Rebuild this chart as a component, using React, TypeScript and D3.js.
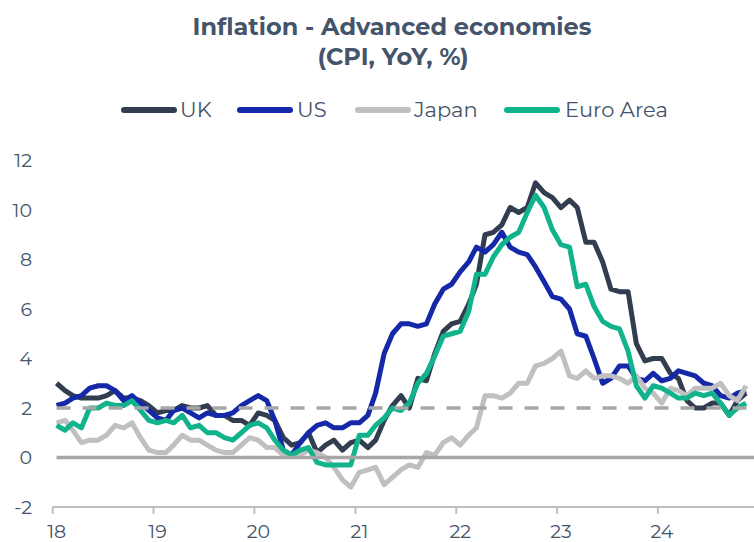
import React from "react";
import * as d3 from "d3";

// monthly CPI YoY %, Jan 2018 .. Nov 2024
const ukCpi = [
  3.0, 2.7, 2.5, 2.4, 2.4, 2.4, 2.5, 2.7, 2.4, 2.4, 2.3, 2.1,
  1.8, 1.9, 1.9, 2.1, 2.0, 2.0, 2.1, 1.7, 1.7, 1.5, 1.5, 1.3,
  1.8, 1.7, 1.5, 0.8, 0.5, 0.6, 1.0, 0.2, 0.5, 0.7, 0.3, 0.6,
  0.7, 0.4, 0.7, 1.5, 2.1, 2.5, 2.0, 3.2, 3.1, 4.2, 5.1, 5.4,
  5.5, 6.2, 7.0, 9.0, 9.1, 9.4, 10.1, 9.9, 10.1, 11.1, 10.7, 10.5,
  10.1, 10.4, 10.1, 8.7, 8.7, 7.9, 6.8, 6.7, 6.7, 4.6, 3.9, 4.0,
  4.0, 3.4, 3.2, 2.3, 2.0, 2.0, 2.2, 2.2, 1.7, 2.3, 2.6,
];
const usCpi = [
  2.1, 2.2, 2.4, 2.5, 2.8, 2.9, 2.9, 2.7, 2.3, 2.5, 2.2, 1.9,
  1.6, 1.5, 1.9, 2.0, 1.8, 1.6, 1.8, 1.7, 1.7, 1.8, 2.1, 2.3,
  2.5, 2.3, 1.5, 0.3, 0.1, 0.6, 1.0, 1.3, 1.4, 1.2, 1.2, 1.4,
  1.4, 1.7, 2.6, 4.2, 5.0, 5.4, 5.4, 5.3, 5.4, 6.2, 6.8, 7.0,
  7.5, 7.9, 8.5, 8.3, 8.6, 9.1, 8.5, 8.3, 8.2, 7.7, 7.1, 6.5,
  6.4, 6.0, 5.0, 4.9, 4.0, 3.0, 3.2, 3.7, 3.7, 3.2, 3.1, 3.4,
  3.1, 3.2, 3.5, 3.4, 3.3, 3.0, 2.9, 2.5, 2.4, 2.6, 2.7,
];
const japanCpi = [
  1.4, 1.5, 1.1, 0.6, 0.7, 0.7, 0.9, 1.3, 1.2, 1.4, 0.8, 0.3,
  0.2, 0.2, 0.5, 0.9, 0.7, 0.7, 0.5, 0.3, 0.2, 0.2, 0.5, 0.8,
  0.7, 0.4, 0.4, 0.1, 0.1, 0.1, 0.3, 0.2, 0.0, -0.4, -0.9, -1.2,
  -0.6, -0.5, -0.4, -1.1, -0.8, -0.5, -0.3, -0.4, 0.2, 0.1, 0.6, 0.8,
  0.5, 0.9, 1.2, 2.5, 2.5, 2.4, 2.6, 3.0, 3.0, 3.7, 3.8, 4.0,
  4.3, 3.3, 3.2, 3.5, 3.2, 3.3, 3.3, 3.2, 3.0, 3.3, 2.8, 2.6,
  2.2, 2.8, 2.7, 2.5, 2.8, 2.8, 2.8, 3.0, 2.5, 2.3, 2.9,
];
const euroCpi = [
  1.3, 1.1, 1.4, 1.2, 2.0, 2.0, 2.2, 2.1, 2.1, 2.3, 1.9, 1.5,
  1.4, 1.5, 1.4, 1.7, 1.2, 1.3, 1.0, 1.0, 0.8, 0.7, 1.0, 1.3,
  1.4, 1.2, 0.7, 0.3, 0.1, 0.3, 0.4, -0.2, -0.3, -0.3, -0.3, -0.3,
  0.9, 0.9, 1.3, 1.6, 2.0, 1.9, 2.2, 3.0, 3.4, 4.1, 4.9, 5.0,
  5.1, 5.9, 7.4, 7.4, 8.1, 8.6, 8.9, 9.1, 9.9, 10.6, 10.1, 9.2,
  8.6, 8.5, 6.9, 7.0, 6.1, 5.5, 5.3, 5.2, 4.3, 2.9, 2.4, 2.9,
  2.8, 2.6, 2.4, 2.4, 2.6, 2.5, 2.6, 2.2, 1.7, 2.0, 2.2,
];

const seriesNames = ["UK", "US", "Japan", "Euro Area"];
const seriesColors = ["#323e50", "#1428a8", "#c0c0c0", "#10b38c"];
const seriesValues = [ukCpi, usCpi, japanCpi, euroCpi];
const yTicks = [-2, 0, 2, 4, 6, 8, 10, 12];
const yearTicks = [2018, 2019, 2020, 2021, 2022, 2023, 2024];
const target = 2;

const W = 754, H = 542;
const textColor = "#44546a";
const font = "Montserrat, 'Open Sans', sans-serif";

export default function App() {
  const months = ukCpi.map((_, i) => new Date(2018, i, 15));

  const x = d3.scaleTime()
    .domain([new Date(2018, 0, 1), new Date(2025, 0, 1)])
    .range([52.7, 759]);
  const y = d3.scaleLinear().domain([-2, 12]).range([507, 160.5]);

  const line = d3.line<number>()
    .x((_, i) => x(months[i]))
    .y(d => y(d));

  const x0 = x(months[0]);

  // legend layout (swatch start, text start)
  const legendItems = [
    { sx: 124, tx: 180 },
    { sx: 240, tx: 297 },
    { sx: 358, tx: 414 },
    { sx: 507, tx: 565 },
  ];

  return (
    <div style={{ position: "absolute", left: 0, top: 0 }}>
      <svg width={W} height={H} style={{ display: "block", background: "#fff" }}
        fontFamily={font}>
        <text x={392} y={35} textAnchor="middle" fontSize={24} fontWeight={700}
          fill={textColor}>Inflation - Advanced economies</text>
        <text x={393} y={65} textAnchor="middle" fontSize={24} fontWeight={700}
          fill={textColor}>(CPI, YoY, %)</text>

        {seriesNames.map((name, i) => (
          <g key={name}>
            <line x1={legendItems[i].sx} x2={legendItems[i].sx + 50} y1={110} y2={110}
              stroke={seriesColors[i]} strokeWidth={6} strokeLinecap="round" />
            <text x={legendItems[i].tx} y={117} fontSize={21} fill={textColor}>{name}</text>
          </g>
        ))}

        {yTicks.map(t => (
          <text key={t} x={32} y={y(t)} dy="0.35em" textAnchor="end" fontSize={19}
            fill={textColor}>{t}</text>
        ))}

        <line x1={52.7} x2={W} y1={507} y2={507} stroke="#bfbfbf" strokeWidth={2} />
        {yearTicks.map(yr => {
          const tx = x(new Date(yr, 0, 1));
          return (
            <g key={yr}>
              <line x1={tx} x2={tx} y1={507} y2={514} stroke="#bfbfbf" strokeWidth={2} />
              <text x={tx + 4} y={538} textAnchor="middle" fontSize={19}
                fill={textColor}>{String(yr).slice(2)}</text>
            </g>
          );
        })}

        {seriesValues.map((vals, i) => (
          <path key={seriesNames[i]} d={line(vals) || ""} fill="none"
            stroke={seriesColors[i]} strokeWidth={5} strokeLinejoin="round" />
        ))}

        <line x1={x0} x2={W} y1={y(0)} y2={y(0)} stroke="#a6a6a6" strokeWidth={3.5} />
        <line x1={x0} x2={W} y1={y(target)} y2={y(target)} stroke="#a6a6a6"
          strokeWidth={3.5} strokeDasharray="14 12" />
      </svg>
    </div>
  );
}
